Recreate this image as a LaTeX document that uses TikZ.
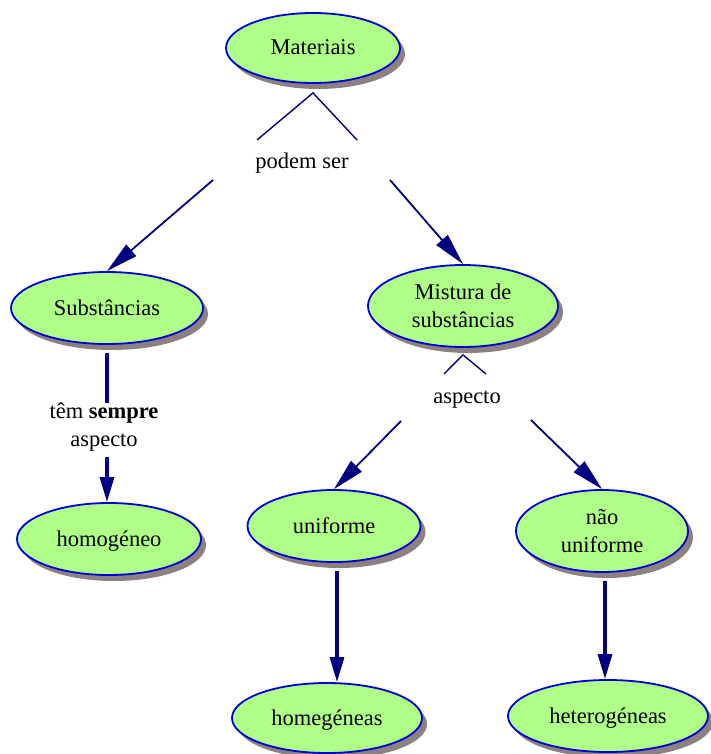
\documentclass[tikz,border=0pt]{standalone}
\usepackage{fontspec}
\setmainfont{Liberation Serif}
\usepackage{tikz}
\usetikzlibrary{shapes.geometric,shadows,arrows.meta}

\definecolor{conceptfill}{RGB}{176,255,136}
\definecolor{conceptline}{RGB}{0,0,215}
\definecolor{linkcolor}{RGB}{0,0,128}
\definecolor{shadowgray}{RGB}{140,128,128}

\tikzset{
  concept/.style={ellipse, draw=conceptline, line width=1.8pt, fill=conceptfill,
    inner sep=0pt, align=center, font=\fontsize{22.5}{28}\selectfont, text depth=1pt,
    drop shadow={shadow xshift=5pt, shadow yshift=-6pt, fill=shadowgray, opacity=1}},
  linkphrase/.style={inner sep=0pt, align=center, font=\fontsize{22.5}{28}\selectfont},
  joinline/.style={draw=linkcolor, line width=1.4pt},
  linkarrow/.style={draw=linkcolor, line width=1.8pt, -{Triangle[length=32pt,width=15pt]}},
  downarrow/.style={draw=linkcolor, line width=3.2pt, -{Triangle[length=25pt,width=14pt]}}
}

\begin{document}
\begin{tikzpicture}[x=1pt,y=1pt]
        \useasboundingbox (0,0) rectangle (710,-754);

        \node[concept, minimum width=174pt, minimum height=70pt] (Materiais) at (313,-48) {Materiais};
        \node[concept, minimum width=192pt, minimum height=72pt] (Substancias) at (107,-308) {Substâncias};
        \node[concept, minimum width=190pt, minimum height=82pt] (Mistura) at (463,-306) {Mistura de\\substâncias};
        \node[concept, minimum width=184pt, minimum height=72pt] (Homogeneo) at (109,-539) {homogéneo};
        \node[concept, minimum width=173pt, minimum height=72pt] (Uniforme) at (334,-526) {uniforme};
        \node[concept, minimum width=172pt, minimum height=82pt] (NaoUniforme) at (602,-531) {não\\uniforme};
        \node[concept, minimum width=190pt, minimum height=70pt] (Homegeneas) at (327,-718) {homegéneas};
        \node[concept, minimum width=200pt, minimum height=72pt] (Heterogeneas) at (608,-716) {heterogéneas};

        \node[linkphrase] (podemSer) at (302,-163) {podem ser};
        \node[linkphrase] (temSempre) at (104,-427) {têm \textbf{sempre}\\aspecto};
        \node[linkphrase] (aspecto) at (467,-400) {aspecto};

        \coordinate (podemNW) at (257,-140);
        \coordinate (podemNE) at (357,-140);
        \coordinate (podemSW) at (213,-180);
        \coordinate (podemSE) at (390,-180);
        \coordinate (aspectoNW) at (444,-374);
        \coordinate (aspectoNE) at (486,-374);
        \coordinate (aspectoSW) at (401,-421);
        \coordinate (aspectoSE) at (531,-420);

        \draw[joinline] (podemNW) -- ([yshift=-9pt]Materiais.south) -- (podemNE);
        \draw[linkarrow] (podemSW) -- (Substancias.north);
        \draw[linkarrow] (podemSE) -- (Mistura.north);

        \draw[downarrow, -] ([yshift=-8pt]Substancias.south) -- (temSempre.north -| Substancias.south);
        \draw[downarrow] ([yshift=-6pt]temSempre.south -| Substancias.south) -- (Homogeneo.north -| Substancias.south);

        \draw[joinline] (aspectoNW) -- ([yshift=-7pt]Mistura.south) -- (aspectoNE);
        \draw[linkarrow] (aspectoSW) -- (Uniforme.north);
        \draw[linkarrow] (aspectoSE) -- (NaoUniforme.north);

        \draw[downarrow] ([xshift=3pt,yshift=-8pt]Uniforme.south) -- ([xshift=3pt]Uniforme.south |- Homegeneas.north);
        \draw[downarrow] ([xshift=3pt,yshift=-8pt]NaoUniforme.south) -- ([xshift=3pt]NaoUniforme.south |- Heterogeneas.north);
    \end{tikzpicture}
\end{document}
